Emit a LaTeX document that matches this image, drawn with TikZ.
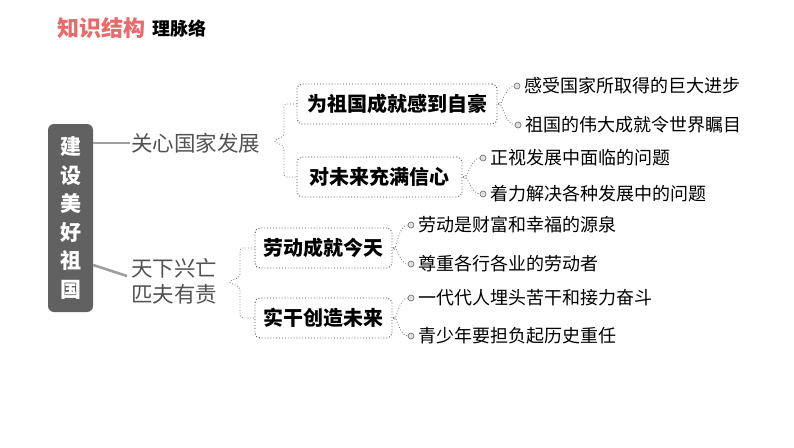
\documentclass[tikz,border=0pt]{standalone}
\usepackage{fontspec}
\setmainfont{Noto Sans CJK SC}
\usetikzlibrary{calc}
\definecolor{titlered}{HTML}{E86A6A}
\begin{document}
\begin{tikzpicture}[x=1pt,y=-1pt,
  every node/.style={inner sep=1pt},
  rootbox/.style={fill=black!62, rounded corners=6pt, text=white, align=center,
    font=\fontsize{21}{28.6}\selectfont\bfseries, minimum width=45pt, minimum height=188pt, inner sep=0pt},
  topic/.style={draw=black!70, dotted, line width=0.9pt, rounded corners=5pt,
    font=\fontsize{20}{24}\selectfont\bfseries, minimum height=40pt, inner sep=0pt},
  grouptext/.style={anchor=west, text=black!68, align=left, font=\fontsize{21.5}{26}\selectfont},
  leaf/.style={anchor=west, font=\fontsize{18}{22}\selectfont},
  bullet/.style={circle, draw=black!60, fill=black!12, line width=0.6pt, minimum size=6pt, inner sep=0pt},
  conn/.style={draw=black!55, dotted, line width=0.8pt},
  thick conn/.style={draw=black!38, line width=2.6pt},
]
\useasboundingbox (0,0) rectangle (794,447);

% title
\node[anchor=west, text=titlered, font=\fontsize{22}{26}\selectfont\bfseries] (t1) at (56,28) {知识结构};
\node[anchor=west, font=\fontsize{18}{22}\selectfont\bfseries] (t2) at (151,29) {理脉络};

% root
\node[rootbox] (root) at (70.5,218) {建\\设\\美\\好\\祖\\国};

% groups
\node[grouptext] (g1) at (130,143) {关心国家发展};
\node[grouptext] (g2) at (130,281) {天下兴亡\\匹夫有责};

\draw[thick conn] (root.east |- g1.west) -- (g1.west);
\draw[thick conn] ($(root.east)+(0,47)$) -- ($(g2.west)+(-3,-5)$);

% topic boxes
\node[topic, minimum width=200pt] (b1) at (397,104) {为祖国成就感到自豪};
\node[topic, minimum width=165pt] (b2) at (379.5,177) {对未来充满信心};
\node[topic, minimum width=137pt] (b3) at (323.5,248) {劳动成就今天};
\node[topic, minimum width=137pt] (b4) at (323.5,318) {实干创造未来};

% braces from groups to topics
\coordinate (k1) at (273,141);
\coordinate (k2) at (228,282);
\draw[conn, rounded corners=3pt] (b1.west) -- ($(k1)+(11,-37)$) -- ($(k1)+(11,-5)$) -- (k1)
  -- ($(k1)+(11,5)$) -- ($(k1)+(11,36)$) -- (b2.west);
\draw[conn, rounded corners=3pt] (b3.west) -- ($(k2)+(12,-34)$) -- ($(k2)+(12,-5)$) -- (k2)
  -- ($(k2)+(12,5)$) -- ($(k2)+(12,36)$) -- (b4.west);

% bullets and leaves
\node[bullet] (p1) at (517,86) {};
\node[leaf] (l1) at (523,86) {感受国家所取得的巨大进步};
\node[bullet] (p2) at (518,125) {};
\node[leaf] (l2) at (524,125) {祖国的伟大成就令世界瞩目};
\node[bullet] (p3) at (483,158) {};
\node[leaf] (l3) at (489,158) {正视发展中面临的问题};
\node[bullet] (p4) at (483,194) {};
\node[leaf] (l4) at (489,194) {着力解决各种发展中的问题};
\node[bullet] (p5) at (411,225) {};
\node[leaf] (l5) at (417,225) {劳动是财富和幸福的源泉};
\node[bullet] (p6) at (411,264) {};
\node[leaf] (l6) at (417,264) {尊重各行各业的劳动者};
\node[bullet] (p7) at (411,298) {};
\node[leaf] (l7) at (417,298) {一代代人埋头苦干和接力奋斗};
\node[bullet] (p8) at (411,336) {};
\node[leaf] (l8) at (417,336) {青少年要担负起历史重任};

% connectors topic -> leaves
\draw[conn] ($(b1.east)+(1,0)$) to[out=-80,in=180] (p1.west);
\draw[conn] ($(b1.east)+(1,0)$) to[out=80,in=180] (p2.west);
\draw[conn] ($(b2.east)+(1,0)$) to[out=-80,in=180] (p3.west);
\draw[conn] ($(b2.east)+(1,0)$) to[out=80,in=180] (p4.west);
\draw[conn] ($(b3.east)+(1,0)$) to[out=-80,in=180] (p5.west);
\draw[conn] ($(b3.east)+(1,0)$) to[out=80,in=180] (p6.west);
\draw[conn] ($(b4.east)+(1,0)$) to[out=-80,in=180] (p7.west);
\draw[conn] ($(b4.east)+(1,0)$) to[out=80,in=180] (p8.west);
\end{tikzpicture}
\end{document}
